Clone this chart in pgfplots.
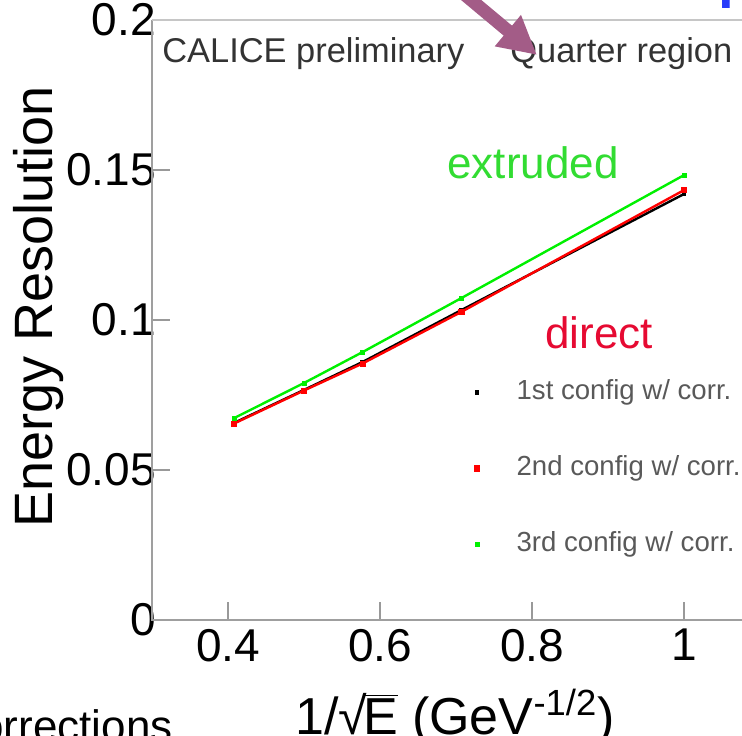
\documentclass[border=0pt]{standalone}
\usepackage{pgfplots}
\pgfplotsset{compat=1.18}
\usepackage{fontspec}
\setmainfont{Liberation Sans}
\setsansfont{Liberation Sans}
\usetikzlibrary{arrows.meta}
\definecolor{cgreen}{RGB}{0,240,0}
\definecolor{txtgreen}{RGB}{50,220,50}
\definecolor{txtred}{RGB}{230,10,50}
\definecolor{arrowc}{RGB}{163,92,135}
\definecolor{bluec}{RGB}{40,60,250}
\begin{document}
\begin{tikzpicture}
\begin{axis}[
  at={(0,0)}, anchor=south west,
  scale only axis, width=295pt, height=300pt,
  xmin=0.3, xmax=1.0763, ymin=0, ymax=0.2,
  clip=false,
  axis line style={draw=none},
  xtick={0.4,0.6,0.8,1}, xticklabels={0.4,0.6,0.8,1},
  ytick={0,0.05,0.1,0.15,0.2}, yticklabels={0,0.05,0.1,0.15,0.2},
  xtick pos=left, ytick pos=left, tick align=inside,
  major tick length=9pt, minor tick num=0,
  tick style={draw=gray!80, line width=0.9pt},
  tick label style={font=\fontsize{23}{23}\selectfont},
  xticklabel style={yshift=-1pt},
  yticklabel style={xshift=5.5pt},
  xlabel={1/√\kern-0.08em$\overline{\hbox{E}}$ (GeV\textsuperscript{-1/2})},
  ylabel={Energy Resolution},
  every axis x label/.style={at={(axis description cs:0.5136,-0.19)}, anchor=base, inner sep=0pt, font=\fontsize{26}{26}\selectfont},
  every axis y label/.style={at={(axis description cs:-0.1678,0.5217)}, rotate=90, anchor=base, inner sep=0pt, font=\fontsize{27}{27}\selectfont},
  legend style={at={(0.5458,0.4)}, anchor=north west, draw=none, fill=none,
    inner sep=0pt, row sep=26pt, column sep=18.5pt,
    font=\fontsize{13.8}{13.8}\selectfont, text=black!65,
    nodes={inner sep=0pt, text height=9.5pt, text depth=2.5pt}},
  legend cell align=left,
]
\draw[gray!75, line width=1.4pt] (rel axis cs:0,1) -- (rel axis cs:0,0) -- (rel axis cs:1,0);
\draw[gray!45, line width=1.1pt] (rel axis cs:0,1) -- (rel axis cs:1,1);
\addplot[black, line width=1.2pt, forget plot] coordinates {
  (0.408,0.0657) (0.5,0.0767) (0.577,0.0860) (0.707,0.1033) (1.0,0.1420)};
\addplot[red, line width=1.2pt, forget plot] coordinates {
  (0.408,0.0655) (0.5,0.0765) (0.577,0.0855) (0.707,0.1027) (1.0,0.1433)};
\addplot[cgreen, line width=1.2pt, forget plot] coordinates {
  (0.408,0.0673) (0.5,0.0790) (0.577,0.0893) (0.707,0.1073) (1.0,0.1483)};
\addplot[only marks, black, mark=square*, mark size=0.9pt] coordinates {
  (0.408,0.0657) (0.5,0.0767) (0.577,0.0860) (0.707,0.1033) (1.0,0.1420)};
\addlegendentry{1st config w/ corr.}
\addplot[only marks, red, mark=square*, mark size=1.3pt] coordinates {
  (0.408,0.0655) (0.5,0.0765) (0.577,0.0855) (0.707,0.1027) (1.0,0.1433)};
\addlegendentry{2nd config w/ corr.}
\addplot[only marks, cgreen, mark=square*, mark size=1.0pt] coordinates {
  (0.408,0.0673) (0.5,0.0790) (0.577,0.0893) (0.707,0.1073) (1.0,0.1483)};
\addlegendentry{3rd config w/ corr.}
\end{axis}
\node[anchor=base west, inner sep=0pt, font=\fontsize{17.2}{17.2}\selectfont, text=black!80] at (5pt,279pt) {CALICE preliminary};
\node[anchor=base west, inner sep=0pt, font=\fontsize{17.2}{17.2}\selectfont, text=black!80] at (179pt,279pt) {Quarter region};
\node[anchor=base, inner sep=0pt, font=\fontsize{22}{22}\selectfont, text=txtgreen] at (190.5pt,221pt) {extruded};
\node[anchor=base, inner sep=0pt, font=\fontsize{22}{22}\selectfont, text=txtred] at (223.5pt,136pt) {direct};
\draw[arrowc, line width=6.5pt, -{Triangle[length=19pt,width=19pt]}] (150pt,318pt) -- (192.5pt,282.5pt);
\node[anchor=base west, inner sep=0pt, font=\bfseries\fontsize{30}{30}\selectfont, text=bluec] at (283pt,305.5pt) {N};
\node[anchor=base east, inner sep=0pt, font=\fontsize{22}{22}\selectfont] at (10.5pt,-60.5pt) {corrections};
\pgfresetboundingbox
\path[use as bounding box] (-76pt,-57.5pt) rectangle (295pt,310pt);
\end{tikzpicture}
\end{document}
